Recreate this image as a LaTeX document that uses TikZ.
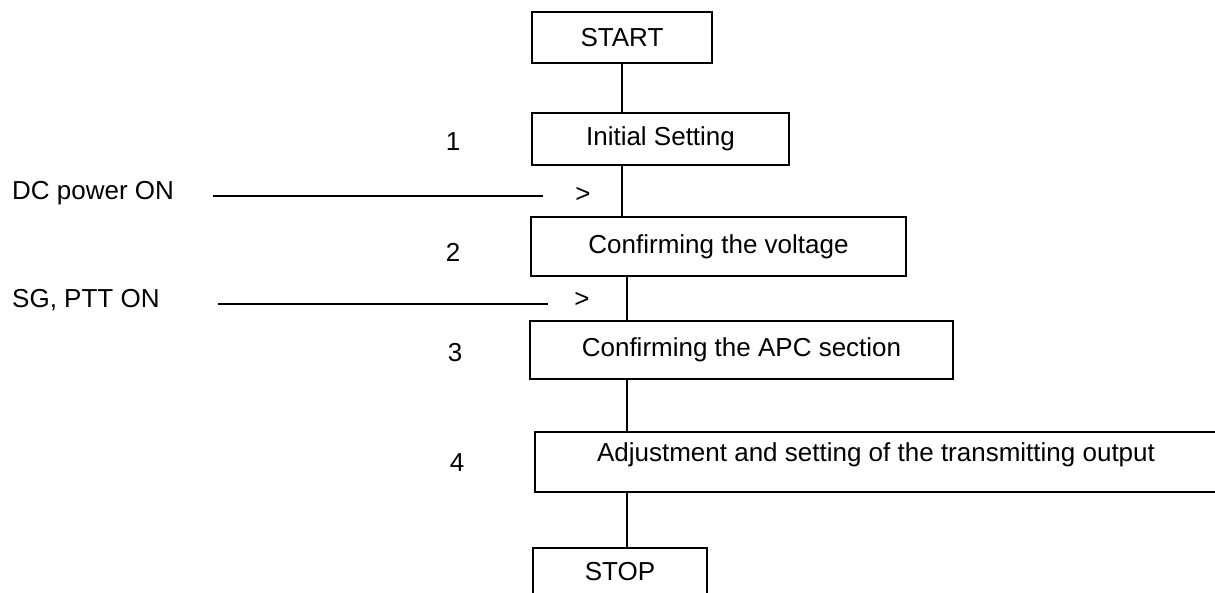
\documentclass[tikz,border=0pt]{standalone}
\usepackage{fontspec}
\setmainfont{Liberation Sans}
\begin{document}
\begin{tikzpicture}[x=1pt,y=-1pt,
  every node/.style={font=\fontsize{26}{30}\selectfont, inner sep=0pt},
  stepbox/.style={draw, line width=1.3pt},
  conn/.style={line width=1.3pt},
  lbl/.style={anchor=west},
]
\useasboundingbox[fill=white] (0,0) rectangle (1215,593);

% boxes
\node[stepbox, minimum width=180pt, minimum height=51pt] (start) at (622,37.5) {START};
\node[stepbox, minimum width=257pt, minimum height=52pt] (init) at (660.5,139) {Initial Setting};
\node[stepbox, minimum width=375pt, minimum height=59pt] (volt) at (718.5,246.5) {Confirming the voltage};
\node[stepbox, minimum width=423pt, minimum height=58pt] (apc) at (741.5,350) {Confirming the APC section};

% adjustment box (runs past the right edge)
\coordinate (adjNW) at (535,432);
\coordinate (adjSW) at (535,492);
\coordinate (adjNE) at (1215,432);
\coordinate (adjSE) at (1215,492);
\draw[line width=1.3pt] (adjNE) -- (adjNW) -- (adjSW) -- (adjSE);
\node (adj) at (876,455) {Adjustment and setting of the transmitting output};

% stop box (runs past the bottom edge)
\coordinate (stopNW) at (533,548);
\coordinate (stopNE) at (707,548);
\coordinate (stopSW) at (533,593);
\coordinate (stopSE) at (707,593);
\draw[line width=1.3pt] (stopSW) -- (stopNW) -- (stopNE) -- (stopSE);
\node (stop) at (620,572) {STOP};

% step numbers
\node (n1) at (453,142) {1};
\node (n2) at (453,252) {2};
\node (n3) at (455,353) {3};
\node (n4) at (457,463) {4};

% side inputs
\node[lbl] (dc) at (12,193) {DC power ON};
\node (dcgt) at (583,195) {>};
\node[lbl] (sg) at (12,300) {SG, PTT ON};
\node (sggt) at (582,300) {>};
\coordinate (dcA) at (213,196);
\coordinate (dcB) at (543,196);
\coordinate (sgA) at (218,304);
\coordinate (sgB) at (548,304);
\draw[conn] (dcA) -- (dcB);
\draw[conn] (sgA) -- (sgB);

% spine connectors
\coordinate (sp1) at (622,0);
\coordinate (sp2) at (627,0);
\draw[conn] (sp1 |- start.south) -- (sp1 |- init.north);
\draw[conn] (sp1 |- init.south) -- (sp1 |- volt.north);
\draw[conn] (sp2 |- volt.south) -- (sp2 |- apc.north);
\draw[conn] (sp2 |- apc.south) -- (sp2 |- adjNW);
\draw[conn] (sp2 |- adjSW) -- (sp2 |- stopNW);
\end{tikzpicture}
\end{document}
